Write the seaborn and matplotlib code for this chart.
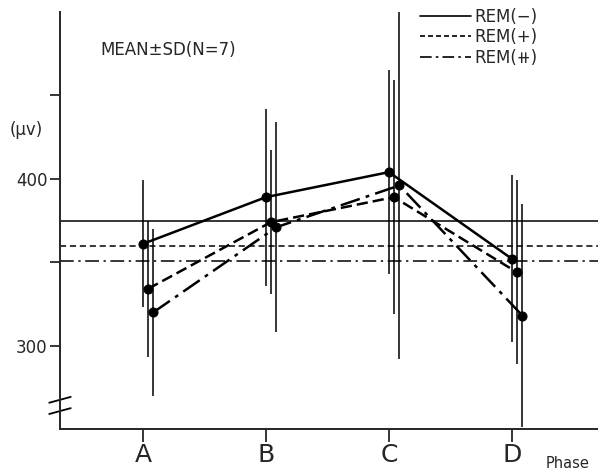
import numpy as np
import pandas as pd
import matplotlib
matplotlib.use("Agg")
import matplotlib.pyplot as plt
import seaborn as sns
from matplotlib.lines import Line2D

# ---- data ----
phases = ["A", "B", "C", "D"]
series_names = ["REM(\u2212)", "REM(+)", "REM(\u29fa)"]
rem_minus_mean = [361, 389, 404, 352]
rem_minus_sd = [38, 53, 61, 50]
rem_plus_mean = [334, 374, 389, 344]
rem_plus_sd = [41, 43, 70, 55]
rem_pp_mean = [320, 371, 396, 318]
rem_pp_sd = [50, 63, 104, 67]
overall_means = [375, 360, 351]   # horizontal reference lines
y_ticks = [300, 350, 400, 450]
y_ticklabels = ["300", "", "400", ""]

# ---- styling ----
offsets = [0.0, 0.04, 0.085]
ref_dash = ["-", (0, (4, 2.5)), (0, (9, 3, 1.5, 3))]

means = [rem_minus_mean, rem_plus_mean, rem_pp_mean]
sds = [rem_minus_sd, rem_plus_sd, rem_pp_sd]

rows = []
for s, name in enumerate(series_names):
    for i, ph in enumerate(phases):
        rows.append({"series": name, "phase": ph, "x": i + offsets[s],
                     "mean": means[s][i], "sd": sds[s][i]})
df = pd.DataFrame(rows)

sns.set_style("ticks")
plt.rcParams["font.family"] = ["DejaVu Sans"]

fig = plt.figure(figsize=(5.98, 4.73), dpi=100)
ax = fig.add_axes([60 / 598, 44 / 473, 1 - 60 / 598, 417 / 473])

# error bars
for s, name in enumerate(series_names):
    d = df[df["series"] == name]
    ax.vlines(d["x"], d["mean"] - d["sd"], d["mean"] + d["sd"],
              color="black", lw=1.1, zorder=2)

# reference lines
for s in range(3):
    ax.axhline(overall_means[s], color="black", lw=1.1, linestyle=ref_dash[s], zorder=1)

# mean lines with markers
sns.lineplot(data=df, x="x", y="mean", style="series", style_order=series_names,
             dashes={series_names[0]: "", series_names[1]: (4.5, 2),
                     series_names[2]: (8, 2.5, 1.5, 2.5)},
             markers={n: "o" for n in series_names}, markersize=6.5,
             color="black", lw=1.8, legend=False, ax=ax, zorder=3,
             markeredgecolor="black")

ax.set_xlim(-0.675, 3.70)
ax.set_ylim(250, 500)
ax.set_xticks(range(len(phases)))
ax.set_xticklabels(phases, fontsize=18)
ax.set_yticks(y_ticks)
ax.set_yticklabels(y_ticklabels, fontsize=12)
ax.set_xlabel("")
ax.set_ylabel("")
ax.tick_params(axis="x", length=9, width=1.3, pad=1)
ax.tick_params(axis="y", length=7, width=1.3, pad=2)
for sp in ["top", "right"]:
    ax.spines[sp].set_visible(False)
for sp in ["left", "bottom"]:
    ax.spines[sp].set_linewidth(1.4)

# axis break marks
for yy in (0.07, 0.043):
    ax.plot([-0.02, 0.02], [yy - 0.007, yy + 0.007], transform=ax.transAxes,
            color="black", lw=1.3, clip_on=False)

# legend
handles = [Line2D([], [], color="black", lw=1.2, linestyle="-"),
           Line2D([], [], color="black", lw=1.2, linestyle=(0, (3, 1.8))),
           Line2D([], [], color="black", lw=1.2, linestyle=(0, (7, 2.5, 1.5, 2.5)))]
ax.legend(handles, series_names, loc="upper left",
          bbox_to_anchor=(409 / 598, 1 + 3 / 473), bbox_transform=fig.transFigure,
          frameon=False, fontsize=12, handlelength=3.05, handletextpad=0.2,
          labelspacing=0.15, borderpad=0.15)

fig.text(100 / 598, 1 - 50 / 473, "MEAN\u00b1SD(N=7)", fontsize=12, va="center")
fig.text(10 / 598, 1 - 130 / 473, "(\u03bcv)", fontsize=12, va="center")
fig.text(546 / 598, 1 - 463 / 473, "Phase", fontsize=10.5, va="center")

fig.savefig("out.png", dpi=100)
